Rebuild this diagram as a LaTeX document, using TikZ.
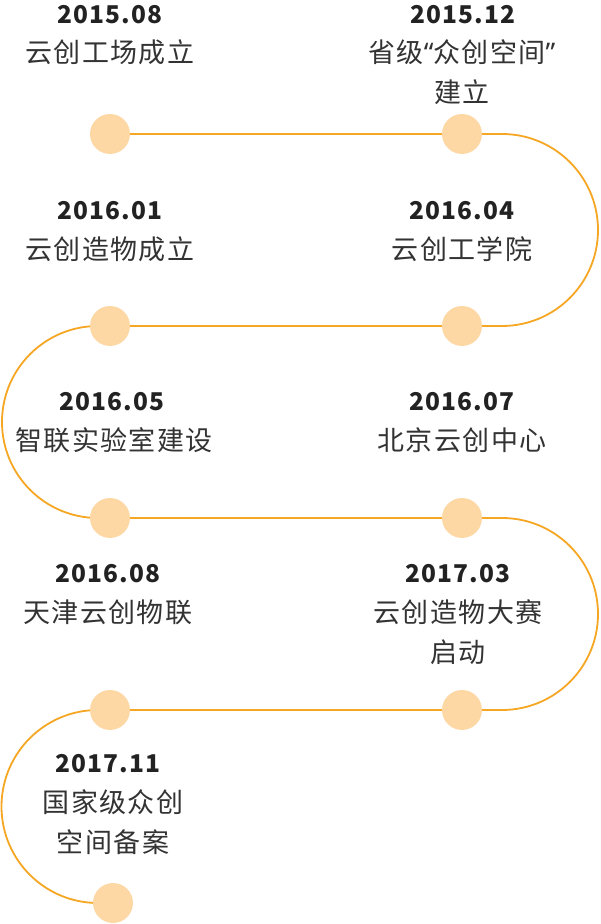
\documentclass[tikz,border=0pt]{standalone}
\usepackage{fontspec}
\setmainfont{Noto Sans CJK SC}
\newfontfamily\datefont[LetterSpace=5]{Noto Sans CJK SC}
\newfontfamily\notefont[LetterSpace=5]{Noto Sans CJK SC}
\newfontfamily\quotefont{Noto Sans}
\definecolor{lineorange}{HTML}{F5A623}
\definecolor{dotpeach}{HTML}{FDD8A5}
\definecolor{textgray}{HTML}{333333}
\definecolor{datedark}{HTML}{222222}

\tikzset{
  track/.style={draw=lineorange, line width=1.8pt},
  dot/.style={circle, fill=dotpeach, minimum size=40pt, inner sep=0pt},
  datum/.style={anchor=base, inner sep=0pt, text=datedark,
    font=\datefont\bfseries\fontsize{24.5}{30}\selectfont},
  note/.style={anchor=base, inner sep=0pt, align=center, text=textgray,
    font=\notefont\fontsize{27}{40}\selectfont},
}

\begin{document}
\begin{tikzpicture}[x=1pt,y=1pt]
  \useasboundingbox (0,0) rectangle (600,924);

  % points on the track
  \coordinate (p1) at (110,790);
  \coordinate (p2) at (462,790);
  \coordinate (p3) at (462,598);
  \coordinate (p4) at (110,598);
  \coordinate (p5) at (110,406);
  \coordinate (p6) at (462,406);
  \coordinate (p7) at (462,214);
  \coordinate (p8) at (110,214);
  \coordinate (p9) at (113,21);

  \draw[track] (p1) -- (p2) -- ++(40,0) arc(90:-90:96) -- (p3)
    -- (p4) -- ++(-12,0) arc(90:270:96) -- (p5)
    -- (p6) -- ++(40,0) arc(90:-90:96) -- (p7)
    -- (p8) -- ++(-12,0) arc(90:270:96.5) -- (p9);

  \foreach \i in {1,...,9}
    \node[dot] (d\i) at (p\i) {};

  % events (base of a two-line note = its last line)
  \node[datum] (t1) at (110,900) {2015.08};
  \node[note] (n1) at (110,861) {云创工场成立};
  \node[datum] (t2) at (463,900) {2015.12};
  \node[note] (n2) at (462,821) {省级{\quotefont“}众创空间{\quotefont”}\\建立};

  \node[datum] (t3) at (110,704) {2016.01};
  \node[note] (n3) at (110,664) {云创造物成立};
  \node[datum] (t4) at (462,704) {2016.04};
  \node[note] (n4) at (462,664) {云创工学院};

  \node[datum] (t5) at (112,513) {2016.05};
  \node[note] (n5) at (114,473) {智联实验室建设};
  \node[datum] (t6) at (462,513) {2016.07};
  \node[note] (n6) at (462,473) {北京云创中心};

  \node[datum] (t7) at (108,341) {2016.08};
  \node[note] (n7) at (108,301) {天津云创物联};
  \node[datum] (t8) at (458,341) {2017.03};
  \node[note] (n8) at (458,261) {云创造物大赛\\启动};

  \node[datum] (t9) at (108,151) {2017.11};
  \node[note] (n9) at (113,71) {国家级众创\\空间备案};
\end{tikzpicture}
\end{document}
